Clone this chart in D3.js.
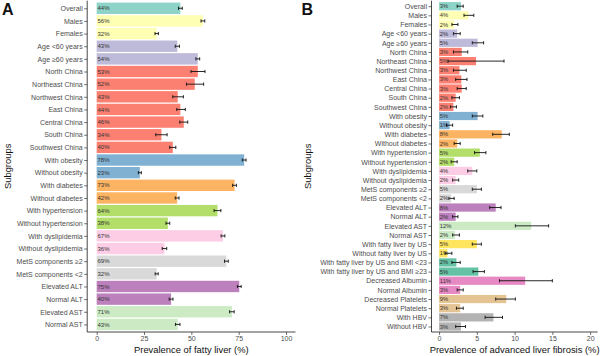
<!DOCTYPE html>
<html><head><meta charset="utf-8">
<script src="https://cdn.jsdelivr.net/npm/d3@7"></script>
<style>body{margin:0;background:#fff}svg{display:block;font-family:"Liberation Sans",Arial,sans-serif}</style>
</head><body><svg id="c" width="600" height="356"></svg>
<script>
// Panel A: prevalence of fatty liver
const catsA = ["Overall","Males","Females","Age <60 years","Age \u226560 years","North China","Northeast China","Northwest China","East China","Central China","South China","Southwest China","With obesity","Without obesity","With diabetes","Without diabetes","With hypertension","Without hypertension","With dyslipidemia","Without dyslipidemia","MetS components \u22652","MetS components <2","Elevated ALT","Normal ALT","Elevated AST","Normal AST"];
const valsA = [44.2,56.1,31.7,42.6,53.4,53.4,51.8,42.8,44.2,46.0,34.2,40.2,77.9,22.8,72.8,42.5,63.8,37.6,66.7,35.8,68.5,31.7,75.3,39.3,71.4,42.8];
const lowA  = [43.2,55.1,30.8,41.5,52.4,49.8,47.4,40.2,42.3,43.9,31.2,38.6,76.9,22.0,71.8,41.5,62.0,36.6,65.7,34.6,67.5,30.9,74.3,38.3,70.2,41.6];
const highA = [45.2,57.1,32.6,43.7,54.4,57.2,56.5,45.8,46.8,48.1,37.2,41.8,78.9,23.6,73.8,43.5,65.6,38.6,67.7,37.0,69.5,32.5,76.3,40.3,72.6,44.0];
const labA  = ["44%","56%","32%","43%","54%","53%","52%","43%","44%","46%","34%","40%","78%","23%","73%","42%","64%","38%","67%","36%","69%","32%","75%","40%","71%","43%"];
const groupA = [0,1,1,2,2,3,3,3,3,3,3,3,4,4,5,5,6,6,7,7,8,8,9,9,10,10];

// Panel B: prevalence of advanced liver fibrosis
const catsB = ["Overall","Males","Females","Age <60 years","Age \u226560 years","North China","Northeast China","Northwest China","East China","Central China","South China","Southwest China","With obesity","Without obesity","With diabetes","Without diabetes","With hypertension","Without hypertension","With dyslipidemia","Without dyslipidemia","MetS components \u22652","MetS components <2","Elevated ALT","Normal ALT","Elevated AST","Normal AST","With fatty liver by US","Without fatty liver by US","With fatty liver by US and BMI <23","With fatty liver by US and BMI \u226523","Decreased Albumin","Normal Albumin","Decreased Platelets","Normal Platelets","With HBV","Without HBV"];
const valsB = [2.9,3.9,2.0,2.4,5.1,3.0,4.9,2.7,2.95,3.0,2.2,1.9,5.1,1.4,8.3,2.4,5.4,2.0,4.4,2.2,5.0,1.6,7.5,2.2,12.2,2.1,5.0,1.1,2.3,5.2,11.4,2.8,8.9,2.8,7.2,2.9];
const lowB  = [2.4,3.3,1.7,1.9,4.4,1.9,1.2,1.9,2.2,2.4,1.7,1.5,4.4,1.0,7.1,2.0,4.7,1.6,3.8,1.8,4.4,1.3,6.7,1.8,10.1,1.8,4.4,0.8,1.7,4.5,8.0,2.4,7.5,2.3,6.1,2.2];
const highB = [3.2,4.6,2.5,2.8,5.9,3.8,8.6,3.6,3.7,3.6,2.7,2.3,5.8,1.8,9.3,2.8,6.2,2.4,5.0,2.6,5.6,2.0,8.2,2.5,14.5,2.7,5.6,1.7,2.8,6.0,15.0,3.2,10.1,3.2,8.4,3.5];
const labB  = ["3%","4%","2%","2%","5%","3%","5%","3%","3%","3%","2%","2%","5%","1%","8%","2%","5%","2%","4%","2%","5%","2%","8%","2%","12%","2%","5%","1%","2%","5%","11%","3%","9%","3%","7%","3%"];
const groupB = [0,1,1,2,2,3,3,3,3,3,3,3,4,4,5,5,6,6,7,7,8,8,9,9,10,10,11,11,12,12,13,13,14,14,15,15];

const palette = ["#8DD3C7","#FFFFB3","#BEBADA","#FB8072","#80B1D3","#FDB462","#B3DE69","#FCCDE5","#D9D9D9","#BC80BD","#CCEBC5","#FFE45E","#66C2A5","#E78AC3","#E5C494","#B3B3B3"];

const ticksA = [0,25,50,75,100];
const ticksB = [0,5,10,15,20];

const svg = d3.select("#c");
const yTop = 0.7, yBot = 332;

function panel(o){
  const g = svg.append("g");
  const x = d3.scaleLinear().domain(o.domain).range([o.x0, o.x1]);
  const y = d3.scalePoint().domain(o.cats).range([yTop, yBot]).padding(0.6);
  const bh = y.step()*0.9;
  const rows = o.cats.map((c,i)=>({c, v:o.vals[i], lo:o.low[i], hi:o.high[i], lab:o.labs[i], gi:o.groups[i]}));
  g.selectAll("rect.bar").data(rows).join("rect")
    .attr("x", x(0)).attr("y", d=>y(d.c)-bh/2)
    .attr("width", d=>x(d.v)-x(0)).attr("height", bh)
    .attr("fill", d=>palette[d.gi]);
  g.selectAll("text.lab").data(rows).join("text")
    .attr("x", x(0)+0.8).attr("y", d=>y(d.c)).attr("dy","0.35em")
    .attr("font-size", o.labSize).attr("fill","#333").text(d=>d.lab);
  const eb = g.append("g").attr("stroke","#111").attr("stroke-width",0.9);
  rows.forEach(d=>{
    const cy = y(d.c), cap = 1.6;
    eb.append("line").attr("x1",x(d.lo)).attr("x2",x(d.hi)).attr("y1",cy).attr("y2",cy);
    eb.append("line").attr("x1",x(d.lo)).attr("x2",x(d.lo)).attr("y1",cy-cap).attr("y2",cy+cap);
    eb.append("line").attr("x1",x(d.hi)).attr("x2",x(d.hi)).attr("y1",cy-cap).attr("y2",cy+cap);
  });
  // y axis
  const ya = g.append("g").attr("transform",`translate(${o.x0},0)`)
    .call(d3.axisLeft(y).tickSize(3).tickPadding(1.5));
  ya.select(".domain").attr("d",`M0,${yTop}V${yBot}`).attr("stroke","#333").attr("stroke-width",0.9);
  ya.selectAll(".tick line").attr("stroke","#333").attr("stroke-width",0.7);
  ya.selectAll(".tick text").attr("font-size",7).attr("fill","#4d4d4d").attr("font-family","Liberation Sans, Arial, sans-serif");
  // x axis
  const xa = g.append("g").attr("transform",`translate(0,${yBot})`)
    .call(d3.axisBottom(x).tickValues(o.ticks).tickSize(3).tickPadding(1.5));
  xa.select(".domain").attr("d",`M${o.x0},0H${o.x1}`).attr("stroke","#333").attr("stroke-width",0.9);
  xa.selectAll(".tick line").attr("stroke","#333").attr("stroke-width",0.7);
  xa.selectAll(".tick text").attr("font-size",7).attr("fill","#4d4d4d").attr("font-family","Liberation Sans, Arial, sans-serif");
  // titles
  g.append("text").attr("x",(o.x0+o.x1)/2).attr("y",352.5).attr("text-anchor","middle")
    .attr("font-size",9.4).attr("fill","#111").text(o.xtitle);
  g.append("text").attr("transform",`translate(${o.ytx},${(yTop+yBot)/2}) rotate(-90)`)
    .attr("text-anchor","middle").attr("font-size",9.4).attr("fill","#111").text("Subgroups");
  g.append("text").attr("x",o.px).attr("y",14.5).attr("font-size",16).attr("font-weight","bold")
    .attr("fill","#111").text(o.panel);
}

panel({cats:catsA, vals:valsA, low:lowA, high:highA, labs:labA, groups:groupA,
  domain:[-5,105], x0:87.2, x1:295.5, ticks:ticksA, labSize:6,
  xtitle:"Prevalence of fatty liver (%)", ytx:10.5, px:2, panel:"A"});
panel({cats:catsB, vals:valsB, low:lowB, high:highB, labs:labB, groups:groupB,
  domain:[-1,21], x0:431.5, x1:597.7, ticks:ticksB, labSize:5.8,
  xtitle:"Prevalence of advanced liver fibrosis (%)", ytx:310.5, px:301.5, panel:"B"});
</script></body></html>
